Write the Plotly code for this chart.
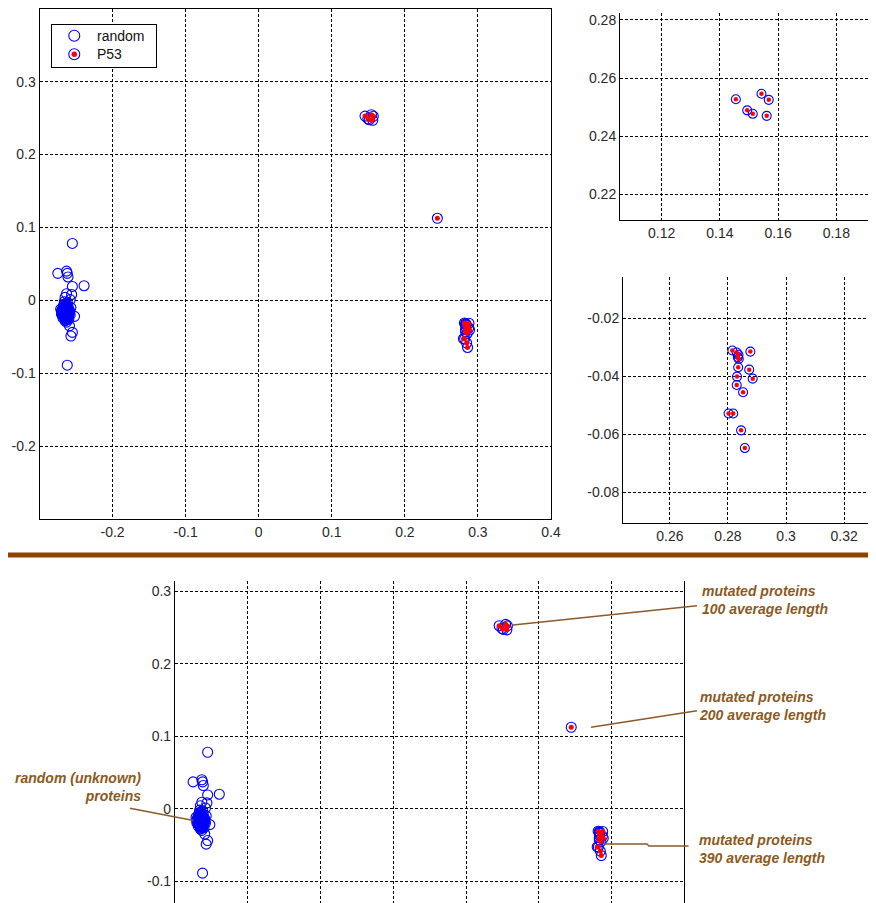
import plotly.graph_objects as go

W, H = 876, 903
OFF = 8  # page body margin of the browser

# ---------------- data ----------------
random_x = [-0.255, -0.275, -0.263, -0.262, -0.261, -0.239, -0.255, -0.263, -0.256, -0.265,
            -0.258, -0.252, -0.259, -0.255, -0.257, -0.262,
            -0.268, -0.266, -0.264, -0.270, -0.262, -0.260, -0.267, -0.265, -0.263, -0.269,
            -0.261, -0.264, -0.266, -0.262, -0.259, -0.258, -0.271, -0.265, -0.262, -0.267,
            -0.260, -0.264, -0.268, -0.257, -0.263,
            -0.266, -0.264, -0.262, -0.260, -0.268, -0.265, -0.263, -0.261, -0.267, -0.264,
            -0.262, -0.266, -0.263, -0.265, -0.261, -0.264, -0.267, -0.262, -0.265, -0.263,
            -0.260, -0.266, -0.264, -0.262, -0.268, -0.265,
            -0.269, -0.267, -0.265, -0.263, -0.261, -0.259, -0.266, -0.264, -0.262, -0.260,
            -0.268, -0.266, -0.264, -0.262, -0.270, -0.267, -0.265, -0.263, -0.261, -0.264,
            -0.266, -0.263, -0.268, -0.262, -0.265]
random_y = [0.078, 0.037, 0.040, 0.037, 0.032, 0.020, 0.019, 0.009, 0.008, 0.004,
            0.001, -0.022, -0.035, -0.044, -0.049, -0.089,
            -0.010, -0.013, -0.016, -0.015, -0.012, -0.018, -0.020, -0.022, -0.025, -0.018,
            -0.008, -0.005, -0.002, -0.003, -0.014, -0.020, -0.012, -0.028, -0.021, -0.007,
            -0.026, -0.011, -0.024, -0.010, -0.030,
            -0.015, -0.017, -0.016, -0.013, -0.016, -0.019, -0.014, -0.022, -0.013, -0.020,
            -0.018, -0.011, -0.009, -0.016, -0.017, -0.023, -0.017, -0.010, -0.024, -0.019,
            -0.021, -0.018, -0.014, -0.015, -0.021, -0.012,
            -0.014, -0.016, -0.018, -0.016, -0.015, -0.017, -0.021, -0.019, -0.017, -0.020,
            -0.019, -0.024, -0.027, -0.026, -0.019, -0.013, -0.011, -0.012, -0.020, -0.008,
            -0.005, -0.006, -0.015, -0.023, -0.025]

p53_x = [0.1455, 0.1494, 0.1513, 0.1543, 0.1568, 0.1561,
         0.2445,
         0.2815, 0.2830, 0.2836, 0.2834, 0.2837, 0.2877, 0.2835, 0.2873, 0.2831,
         0.2885, 0.2830, 0.2852, 0.2802, 0.2818, 0.2845, 0.2858]
p53_y = [0.2527, 0.2489, 0.2477, 0.2546, 0.2525, 0.2470,
         0.1125,
         -0.0311, -0.0318, -0.0326, -0.0334, -0.0340, -0.0315, -0.0369, -0.0377, -0.0401,
         -0.0408, -0.0430, -0.0455, -0.0528, -0.0528, -0.0586, -0.0647]

main_xticks = [-0.2, -0.1, 0, 0.1, 0.2, 0.3, 0.4]
main_xlabels = ["-0.2", "-0.1", "0", "0.1", "0.2", "0.3", "0.4"]
main_yticks = [-0.2, -0.1, 0, 0.1, 0.2, 0.3]
main_ylabels = ["-0.2", "-0.1", "0", "0.1", "0.2", "0.3"]
in1_xticks = [0.12, 0.14, 0.16, 0.18]
in1_xlabels = ["0.12", "0.14", "0.16", "0.18"]
in1_yticks = [0.22, 0.24, 0.26, 0.28]
in1_ylabels = ["0.22", "0.24", "0.26", "0.28"]
in2_xticks = [0.26, 0.28, 0.30, 0.32]
in2_xlabels = ["0.26", "0.28", "0.3", "0.32"]
in2_yticks = [-0.08, -0.06, -0.04, -0.02]
in2_ylabels = ["-0.08", "-0.06", "-0.04", "-0.02"]
bot_xticks = [-0.2, -0.1, 0, 0.1, 0.2, 0.3]
bot_yticks = [-0.1, 0, 0.1, 0.2, 0.3]
bot_ylabels = ["-0.1", "0", "0.1", "0.2", "0.3"]

legend_labels = ["random", "P53"]
notes = ["mutated proteins<br>100 average length",
         "mutated proteins<br>200 average length",
         "random (unknown)<br>proteins",
         "mutated proteins<br>390 average length"]

# ---------------- helpers (screen px -> paper) ----------------
def fx(px):
    return (px - OFF) / W

def fy(py):
    return 1 - (py - OFF) / H

BLUE = "#0000FF"
RED = "#FF0000"
BROWN = "#8B5A1E"
FONT = "Liberation Sans, Arial, sans-serif"
GRID = dict(showgrid=True, gridcolor="black", gridwidth=1, griddash="3px,2px",
            zeroline=False, linecolor="black", linewidth=1, automargin=False,
            tickfont=dict(family=FONT, size=14, color="#2a2a2a"),
            ticks="", fixedrange=True)

fig = go.Figure()

subplots = [("x", "y", 10, 5), ("x2", "y2", 9, 4.5), ("x3", "y3", 9, 4.5), ("x4", "y4", 10, 5)]
for xa, ya, ring, dot in subplots:
    fig.add_trace(go.Scatter(x=random_x, y=random_y, xaxis=xa, yaxis=ya, mode="markers",
                             name="random", showlegend=False, hoverinfo="skip",
                             marker=dict(symbol="circle-open", size=ring, color=BLUE,
                                         line=dict(width=1.1, color=BLUE))))
    fig.add_trace(go.Scatter(x=p53_x, y=p53_y, xaxis=xa, yaxis=ya, mode="markers",
                             name="P53", showlegend=False, hoverinfo="skip",
                             marker=dict(symbol="circle-open", size=ring, color=BLUE,
                                         line=dict(width=1.1, color=BLUE))))
    fig.add_trace(go.Scatter(x=p53_x, y=p53_y, xaxis=xa, yaxis=ya, mode="markers",
                             name="P53", showlegend=False, hoverinfo="skip",
                             marker=dict(symbol="circle", size=dot, color=RED,
                                         line=dict(width=0))))

# legend glyphs (own little axis box)
fig.add_trace(go.Scatter(x=[0.214], y=[0.736], xaxis="x5", yaxis="y5", mode="markers",
                         showlegend=False, hoverinfo="skip",
                         marker=dict(symbol="circle-open", size=11, color=BLUE,
                                     line=dict(width=1.1, color=BLUE))))
fig.add_trace(go.Scatter(x=[0.214], y=[0.299], xaxis="x5", yaxis="y5", mode="markers",
                         showlegend=False, hoverinfo="skip",
                         marker=dict(symbol="circle-open", size=11, color=BLUE,
                                     line=dict(width=1.1, color=BLUE))))
fig.add_trace(go.Scatter(x=[0.214], y=[0.299], xaxis="x5", yaxis="y5", mode="markers",
                         showlegend=False, hoverinfo="skip",
                         marker=dict(symbol="circle", size=5.5, color=RED, line=dict(width=0))))

layout = dict(
    template="none",
    width=W, height=H, margin=dict(l=0, r=0, t=0, b=0, pad=0, autoexpand=False),
    paper_bgcolor="white", plot_bgcolor="white", showlegend=False,
    xaxis=dict(GRID, domain=[fx(39.5), fx(551)], range=[-0.3, 0.4], anchor="y",
               showline=True, mirror=True, tickvals=main_xticks, ticktext=main_xlabels),
    yaxis=dict(GRID, domain=[fy(519), fy(8.7)], range=[-0.3, 0.4], anchor="x",
               showline=True, mirror=True, tickvals=main_yticks, ticktext=main_ylabels),
    xaxis2=dict(GRID, domain=[fx(620), 1], range=[0.1057, 0.19639], anchor="y2",
                showline=True, mirror=False, tickvals=in1_xticks, ticktext=in1_xlabels),
    yaxis2=dict(GRID, domain=[fy(220.3), fy(13)], range=[0.21105, 0.2824], anchor="x2",
                showline=True, mirror=False, tickvals=in1_yticks, ticktext=in1_ylabels),
    xaxis3=dict(GRID, domain=[fx(623), 1], range=[0.24386, 0.3337], anchor="y3",
                showline=True, mirror=False, tickvals=in2_xticks, ticktext=in2_xlabels),
    yaxis3=dict(GRID, domain=[fy(523.3), fy(276.7)], range=[-0.0906, -0.00571], anchor="x3",
                showline=True, mirror=False, tickvals=in2_yticks, ticktext=in2_ylabels),
    xaxis4=dict(GRID, domain=[fx(174.9), fx(684.4)], range=[-0.3, 0.4], anchor="y4",
                showline=False, showticklabels=False, tickvals=bot_xticks),
    yaxis4=dict(GRID, domain=[0, fy(581)], range=[-0.1413, 0.3145], anchor="x4",
                showline=True, mirror=True, tickvals=bot_yticks, ticktext=bot_ylabels),
    xaxis5=dict(domain=[fx(52), fx(156)], range=[0, 1], anchor="y5", showgrid=False,
                zeroline=False, showticklabels=False, showline=True, mirror=True,
                linecolor="black", linewidth=1, ticks="", fixedrange=True, automargin=False),
    yaxis5=dict(domain=[fy(67), fy(24.5)], range=[0, 1], anchor="x5", showgrid=False,
                zeroline=False, showticklabels=False, showline=True, mirror=True,
                linecolor="black", linewidth=1, ticks="", fixedrange=True, automargin=False),
)
fig.update_layout(**layout)

annotations = [
    dict(x=0.413, y=0.736, xref="x5", yref="y5", text=legend_labels[0]),
    dict(x=0.413, y=0.299, xref="x5", yref="y5", text=legend_labels[1]),
]
for a in annotations:
    fig.add_annotation(**a, xanchor="left", yanchor="middle", showarrow=False,
                       font=dict(family=FONT, size=14, color="#111111"))

note_pos = [(700, 599.5, "left", "left"), (697, 705.9, "left", "left"),
            (143, 786.5, "right", "right"), (697, 848.9, "left", "left")]
for txt, (px, py, anchor, align) in zip(notes, note_pos):
    fig.add_annotation(x=fx(px), y=fy(py), xref="paper", yref="paper",
                       text="<b><i>" + txt + "</i></b>", showarrow=False,
                       xanchor=anchor, yanchor="middle", align=align,
                       font=dict(family=FONT, size=14, color=BROWN))

# separator bar
fig.add_shape(type="line", xref="paper", yref="paper", x0=0, x1=1, y0=fy(555), y1=fy(555),
              line=dict(color="#8B4500", width=5), layer="above")
# pointer lines
pointers = [((697, 605.7), (513, 625)),
            ((697, 710.7), (591, 727.3)),
            ((130, 808.3), (193.5, 820.5))]
for (x0, y0), (x1, y1) in pointers:
    fig.add_shape(type="line", xref="paper", yref="paper", x0=fx(x0), y0=fy(y0),
                  x1=fx(x1), y1=fy(y1), line=dict(color="#8B5A2B", width=1.5), layer="above")
poly = [(688.5, 846), (649, 846), (647, 844), (605, 844)]
path = "M " + " L ".join(f"{fx(a):.5f},{fy(b):.5f}" for a, b in poly)
fig.add_shape(type="path", xref="paper", yref="paper", path=path,
              line=dict(color="#8B5A2B", width=1.5), layer="above")

fig.write_html("out.html")
